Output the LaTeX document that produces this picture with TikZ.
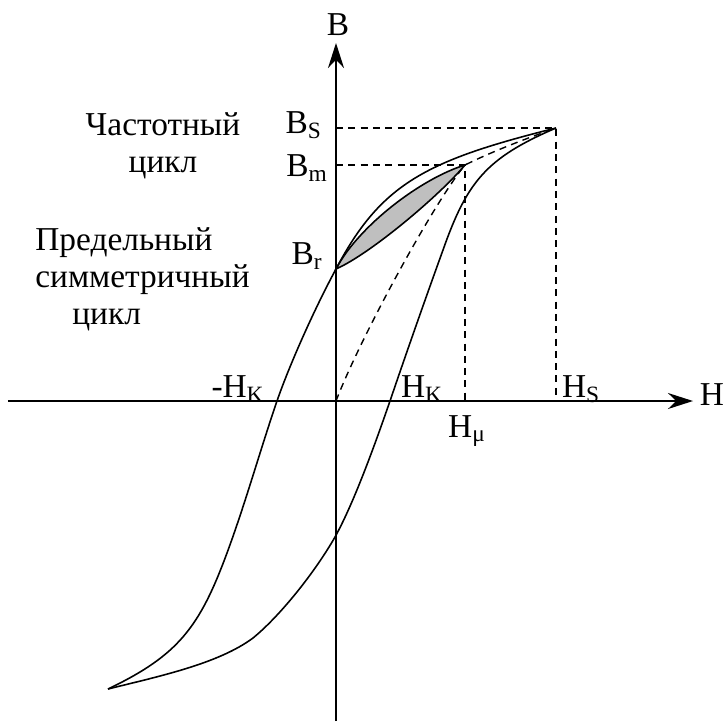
\documentclass[tikz,border=0pt]{standalone}
\usepackage{fontspec}
\setmainfont{Liberation Serif}
\usetikzlibrary{arrows.meta}
\tikzset{
  curve/.style={line width=0.9pt},
  guide/.style={line width=0.8pt, dash pattern=on 4pt off 3pt},
  lbl/.style={font=\fontsize{19}{21}\selectfont, inner sep=0pt},
  axis/.style={line width=0.9pt, -{Stealth[length=0.5cm, width=0.32cm]}},
}
\begin{document}
\begin{tikzpicture}
            \useasboundingbox (-6.72,-6.46) rectangle (7.78,8.02);
            % axes
            \coordinate (O) at (0,0);
            \coordinate (Hend) at (7.14,0);
            \coordinate (Hbeg) at (-6.56,0);
            \coordinate (Bend) at (0,7.16);
            \coordinate (Bbeg) at (0,-6.40);
            \draw[axis] (Hbeg)--(Hend);
            \draw[axis] (Bbeg)--(Bend);
            % key points
            \coordinate (Bs) at (4.40,5.46);
            \coordinate (Bm) at (2.58,4.72);
            \coordinate (Br) at (0,2.64);
            \coordinate (tip) at (-4.56,-5.76);
            % minor loop
            \filldraw[curve, fill=black!25] (Br) .. controls (0.45,3.5) and (1.7,4.45) .. (Bm)
              .. controls (2.08,4.12) and (0.7,2.95) .. (Br) -- cycle;
            % major loop
            \draw[curve] (Bs) .. controls (1.8,4.81) and (0.9,4.35) .. (Br)
              .. controls (-0.45,1.81) and (-0.95,0.67) .. (-1.18,0)
              .. controls (-1.51,-0.96) and (-1.81,-2.04) .. (-2.18,-3.04)
              .. controls (-2.73,-4.53) and (-3.16,-5.09) .. (tip);
            \draw[curve] (tip) .. controls (-3.56,-5.51) and (-2.36,-5.26) .. (-1.66,-4.74)
              .. controls (-1.11,-4.29) and (-0.42,-3.42) .. (-0.02,-2.72)
              .. controls (0.38,-2.0) and (0.83,-0.72) .. (1.08,0)
              .. controls (1.42,1.0) and (1.80,2.08) .. (2.14,3.02)
              .. controls (2.62,4.38) and (3.0,4.86) .. (Bs);
            % initial curve
            \draw[guide] (O) .. controls (0.5,1.3) and (1.98,4.0) .. (Bm)
              .. controls (3.1,4.98) and (3.8,5.25) .. (Bs);
            % guides
            \draw[guide] (Bs-|O)--(Bs)--(Bs|-O);
            \draw[guide] (Bm-|O)--(Bm)--(Bm|-O);
            % labels
            \node[lbl] (labB) at (0.04,7.52) {B};
            \node[lbl] (labH) at (7.52,0.12) {H};
            \node[lbl, anchor=east] (labBs) at (-0.28,5.52) {B\textsubscript{S}};
            \node[lbl, anchor=east] (labBm) at (-0.16,4.66) {B\textsubscript{m}};
            \node[lbl, anchor=east] (labBr) at (-0.26,2.90) {B\textsubscript{r}};
            \node[lbl] (labmHk) at (-1.96,0.24) {-H\textsubscript{K}};
            \node[lbl] (labHk) at (1.72,0.24) {H\textsubscript{K}};
            \node[lbl] (labHs) at (4.90,0.24) {H\textsubscript{S}};
            \node[lbl] (labHmu) at (2.62,-0.60) {H\textsubscript{μ}};
            \node[lbl, align=center] (freq) at (-3.46,5.10) {Частотный\\цикл};
            \node[lbl, align=left, anchor=west] (limit) at (-6.02,2.44) {Предельный\\симметричный\\\hspace*{0.74cm}цикл};
\end{tikzpicture}
\end{document}
